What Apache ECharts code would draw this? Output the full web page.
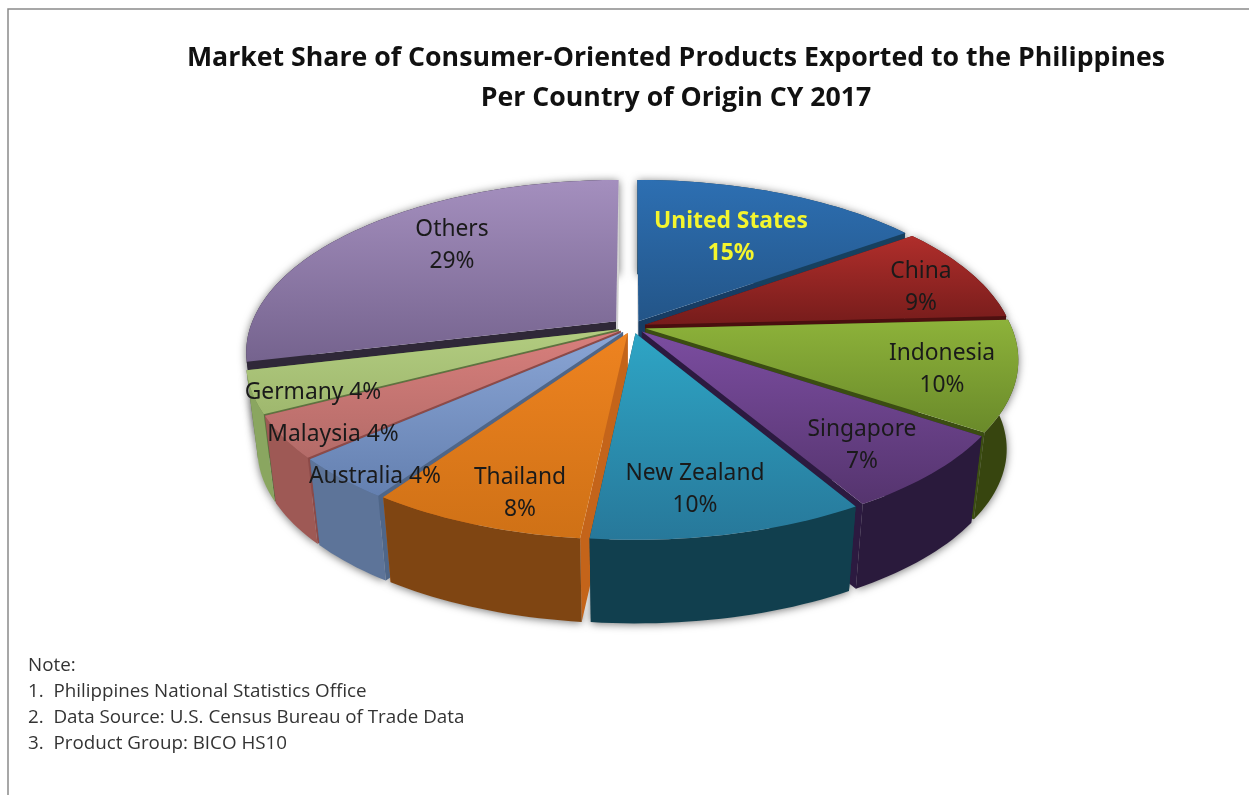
<!DOCTYPE html>
<html>
<head>
<meta charset="utf-8">
<style>html,body{margin:0;padding:0;background:#fff}#chart{width:1249px;height:795px}</style>
<script src="https://cdn.jsdelivr.net/npm/echarts@6/dist/echarts.min.js"></script>
</head>
<body>
<div id="chart"></div>
<script>
// Market share per country of origin, clockwise from twelve o'clock
const countries = ['United States','China','Indonesia','Singapore','New Zealand','Thailand','Australia','Malaysia','Germany','Others'];
const shares = [15, 9, 10, 7, 10, 8, 4, 4, 4, 29];
const titleLines = ['Market Share of Consumer-Oriented Products Exported to the Philippines','Per Country of Origin CY 2017'];
const noteLines = ['Note:','1.  Philippines National Statistics Office','2.  Data Source: U.S. Census Bureau of Trade Data','3.  Product Group: BICO HS10'];

// Face colours per slice: top gradient (light, dark), outer wall, cut face
const topLight = ['#2d6fb2','#b02e2b','#8db23a','#7b4da0','#2ea5c5','#ee8320','#8aa5d5','#d87f7c','#b2cc80','#a48fbe'];
const topDark  = ['#235588','#761c1b','#6a8a2a','#55346e','#27789a','#cf7116','#6480b0','#b36b68','#9fb86e','#75638e'];
const wallTone = ['#17405f','#4d1010','#37450f','#2a1a3c','#113f4e','#7f4512','#5d7499','#9e5955','#8aa660','#2f2838'];
const cutTone  = ['#173c63','#4a0f0f','#3b4d12','#2c1a40','#124050','#c4641a','#4f6688','#8c4a48','#5e7340','#2f2838'];
const backFaceTone = '#d2d2d2';
// How far each slice is pulled away from the hub, in disc radii
const pullOut = [0.038, 0.038, 0.038, 0.038, 0.038, 0.038, 0.038, 0.038, 0.038, 0.055];

// Perspective used to lay the disc over the page; twist skews the near half of the rim
const view = { cx: 632, cy: 327, rx: 366, ry: 168, persp: 0.175, depth: 90, shrink: 0.97, twist: 2.4 * Math.PI / 180 };
// Label centres on the page
const labelCentres = [[731,238],[921,288],[942,370],[862,446],[695,490],[520,494],[375,477],[333,435],[313,393],[452,246]];
const oneLineLabels = ['Australia','Malaysia','Germany'];

const total = shares.reduce((a, b) => a + b, 0);
const angleAt = (n) => shares.slice(0, n).reduce((a, b) => a + b, 0) / total * Math.PI * 2;
const midDepth = shares.map((_, i) => Math.cos((angleAt(i) + angleAt(i + 1)) / 2));
// Paint far slices first so the nearer ones cover them
const paintRank = shares.map((_, i) => i).sort((a, b) => midDepth[b] - midDepth[a]);

function project(u, v, lower) {
  const f = 1 / (1 + view.persp * v);
  let x = view.rx * u * f, y = -view.ry * v * f;
  if (lower) { x *= view.shrink; y = y * view.shrink + view.depth; }
  return [view.cx + x, view.cy + y];
}

const twisted = (t) => t + view.twist * Math.pow(Math.sin(t / 2), 4);

function renderSlice(params, api) {
  const i = params.dataIndex;
  const value = api.value(0);
  const a0 = angleAt(i), a1 = angleAt(i + 1), mid = (a0 + a1) / 2;
  const ou = pullOut[i] * Math.sin(mid), ov = pullOut[i] * Math.cos(mid);
  const rim = (lower) => {
    const pts = [];
    const steps = Math.max(6, Math.round((a1 - a0) * 40));
    for (let s = 0; s <= steps; s++) {
      const t = twisted(a0 + (a1 - a0) * s / steps);
      pts.push(project(ou + Math.sin(t), ov + Math.cos(t), lower));
    }
    return pts;
  };
  const rimTop = rim(false), rimLow = rim(true);
  const hubTop = project(ou, ov, false), hubLow = project(ou, ov, true);
  const wall = rimTop.concat(rimLow.slice().reverse());
  const rank = paintRank.indexOf(i) * 10 + 10;
  const poly = (points, style, z2) => ({ type: 'polygon', shape: { points }, style, z2, silent: true });
  // Faces turned toward the far edge only catch a pale sliver of light
  const faceTone = (angle) => (Math.cos(angle) > 0.95 ? backFaceTone : cutTone[i]);
  const wallFill = Math.cos(a1) > 0.95
    ? { type: 'linear', x: 0, y: 0, x2: 1, y2: 0,
        colorStops: [{ offset: 0, color: wallTone[i] }, { offset: 0.97, color: wallTone[i] }, { offset: 0.98, color: backFaceTone }, { offset: 1, color: backFaceTone }] }
    : wallTone[i];
  const children = [
    // Soft ground shadow beneath the pie
    poly(wall, { fill: '#bbb', shadowBlur: 9, shadowColor: 'rgba(0,0,0,0.55)', shadowOffsetY: 1 }, 1),
    poly([hubTop, rimTop[0], rimLow[0], hubLow], { fill: faceTone(a0) }, rank),
    poly([hubTop, rimTop[rimTop.length - 1], rimLow[rimLow.length - 1], hubLow], { fill: faceTone(a1) }, rank + 1),
    poly(wall, { fill: wallFill }, rank + 2),
    poly([hubTop].concat(rimTop), {
      fill: { type: 'linear', x: 0, y: 0, x2: 0, y2: 1,
        colorStops: [{ offset: 0, color: topLight[i] }, { offset: 1, color: topDark[i] }] }
    }, rank + 3)
  ];
  const oneLine = oneLineLabels.includes(countries[i]);
  children.push({
    type: 'text', z2: 1000, silent: true,
    style: {
      x: labelCentres[i][0], y: labelCentres[i][1],
      text: countries[i] + (oneLine ? ' ' : '\n') + value + '%',
      align: 'center', verticalAlign: 'middle', lineHeight: 32,
      font: (i === 0 ? 'bold ' : '') + '22.8px "Noto Sans"',
      fill: i === 0 ? '#f4f52e' : '#1a1a1a'
    }
  });
  return { type: 'group', children };
}

const chart = echarts.init(document.getElementById('chart'), null, { renderer: 'canvas' });
chart.setOption({
  animation: false,
  backgroundColor: '#ffffff',
  title: [
    { text: titleLines.join('\n'), left: 671, top: 33, textAlign: 'center',
      textStyle: { fontFamily: 'Open Sans', fontWeight: 'bold', fontSize: 26.7, lineHeight: 40, color: '#111' } },
    { text: noteLines.join('\n'), left: 23, top: 648,
      textStyle: { fontFamily: 'Open Sans', fontWeight: 'normal', fontSize: 18.8, lineHeight: 26, color: '#333' } }
  ],
  graphic: [{
    type: 'polyline', silent: true,
    shape: { points: [[8, 795], [8, 9], [1249, 9]] },
    style: { stroke: '#8a8a8a', lineWidth: 1.5, fill: null }
  }],
  series: [{
    type: 'custom',
    coordinateSystem: 'none',
    clip: false,
    renderItem: renderSlice,
    data: countries.map((name, i) => ({ name, value: shares[i] }))
  }]
});
</script>
</body>
</html>
